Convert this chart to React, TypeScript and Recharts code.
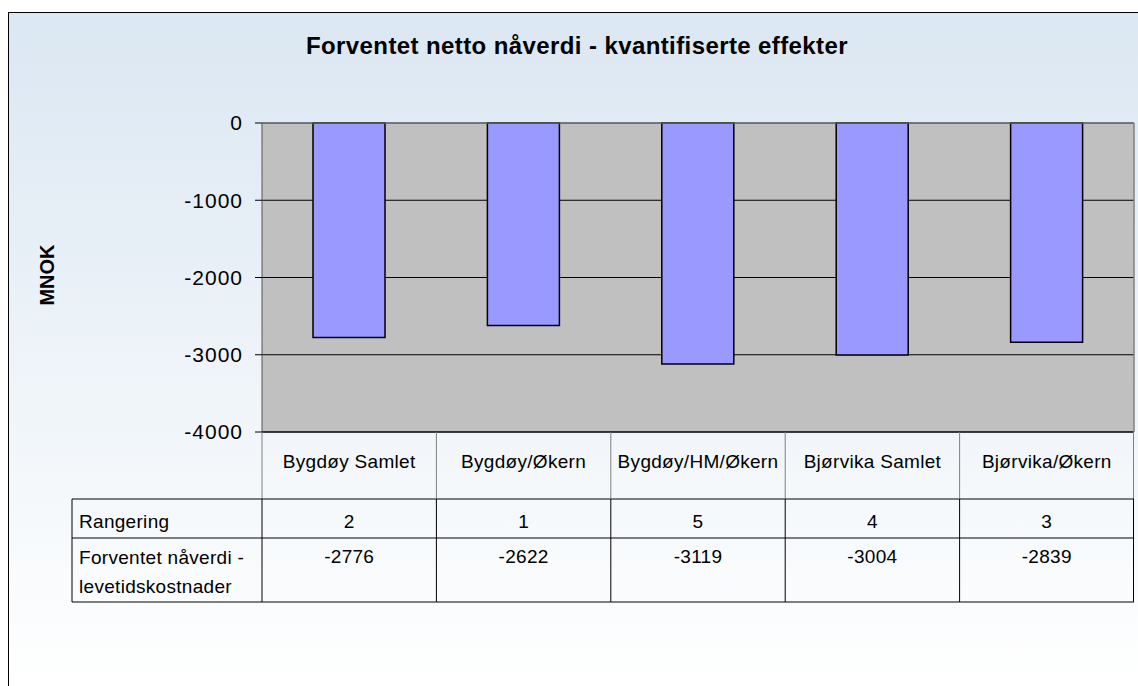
import { BarChart, Bar, XAxis, YAxis, CartesianGrid, ReferenceLine } from 'recharts';

const categories = ['Bygdøy Samlet', 'Bygdøy/Økern', 'Bygdøy/HM/Økern', 'Bjørvika Samlet', 'Bjørvika/Økern'];
const values = [-2776, -2622, -3119, -3004, -2839];
const ranks = [2, 1, 5, 4, 3];
const yTicks = [0, -1000, -2000, -3000, -4000];

const title = 'Forventet netto nåverdi - kvantifiserte effekter';
const yLabel = 'MNOK';
const rankLabel = 'Rangering';
const valueLabel = ['Forventet nåverdi -', 'levetidskostnader'];

const data = categories.map((name, i) => ({ name, value: values[i], rank: ranks[i] }));

const W = 1129;
const H = 673;
const PLOT_LEFT = 253;
const PLOT_RIGHT = 1125;
const COL_W = (PLOT_RIGHT - PLOT_LEFT) / categories.length;
const TABLE_LEFT = 63;
// row bottoms, measured from the top of the table
const ROW1 = 67;
const ROW2 = 106;
const ROW3 = 170;
const FONT = '"Liberation Sans", Arial, sans-serif';

function TableTick(props: any) {
  const { x, y, index } = props;
  const d = data[index];
  const l = x - COL_W / 2;
  const r = x + COL_W / 2;
  const last = index === data.length - 1;
  return (
    <g fontFamily={FONT} fontSize={19} style={{ letterSpacing: 0.3 }}>
      <line x1={l} y1={y} x2={l} y2={y + ROW1} stroke="#808080" />
      <line x1={l} y1={y + ROW1} x2={l} y2={y + ROW3} stroke="#000" />
      {last && <line x1={r - 0.5} y1={y} x2={r - 0.5} y2={y + ROW1} stroke="#808080" />}
      {last && <line x1={r - 0.5} y1={y + ROW1} x2={r - 0.5} y2={y + ROW3} stroke="#000" />}
      <line x1={l} y1={y + ROW1} x2={r} y2={y + ROW1} stroke="#000" />
      <line x1={l} y1={y + ROW2} x2={r} y2={y + ROW2} stroke="#000" />
      <line x1={l} y1={y + ROW3} x2={r} y2={y + ROW3} stroke="#000" />
      <text x={x} y={y + 36} textAnchor="middle" fill="#000">{d.name}</text>
      <text x={x} y={y + 96} textAnchor="middle" fill="#000">{d.rank}</text>
      <text x={x} y={y + 131} textAnchor="middle" fill="#000">{d.value}</text>
      {index === 0 && (
        <g>
          <line x1={TABLE_LEFT} y1={y + ROW1} x2={l} y2={y + ROW1} stroke="#000" />
          <line x1={TABLE_LEFT} y1={y + ROW2} x2={l} y2={y + ROW2} stroke="#000" />
          <line x1={TABLE_LEFT} y1={y + ROW3} x2={l} y2={y + ROW3} stroke="#000" />
          <line x1={TABLE_LEFT} y1={y + ROW1} x2={TABLE_LEFT} y2={y + ROW3} stroke="#000" />
          <text x={TABLE_LEFT + 7} y={y + 96} fill="#000">{rankLabel}</text>
          <text x={TABLE_LEFT + 7} y={y + 132} fill="#000">{valueLabel[0]}</text>
          <text x={TABLE_LEFT + 7} y={y + 161} fill="#000">{valueLabel[1]}</text>
        </g>
      )}
    </g>
  );
}

export default function App() {
  return (
    <div
      style={{
        position: 'absolute',
        left: 8,
        top: 12,
        width: W,
        height: H,
        borderLeft: '1px solid #000',
        borderTop: '1px solid #000',
        background: 'linear-gradient(#DBE7F2, #FFFFFF)',
        overflow: 'hidden',
        fontFamily: FONT,
      }}
    >
      <div
        style={{
          position: 'absolute',
          left: 0,
          top: 21,
          width: 1136,
          textAlign: 'center',
          fontSize: 24,
          lineHeight: '24px',
          fontWeight: 'bold',
          letterSpacing: 0.4,
        }}
      >
        {title}
      </div>
      <div
        style={{
          position: 'absolute',
          left: -12,
          top: 250,
          width: 100,
          height: 24,
          lineHeight: '24px',
          textAlign: 'center',
          fontSize: 20,
          fontWeight: 'bold',
          transform: 'rotate(-90deg)',
        }}
      >
        {yLabel}
      </div>
      <BarChart width={W} height={H} data={data} margin={{ top: 110, right: 0, bottom: H - 419 - 170, left: 0 }}>
        <CartesianGrid vertical={false} stroke="#000" fill="#C0C0C0" fillOpacity={1} />
        <XAxis
          dataKey="name"
          height={170}
          tickSize={0}
          tickMargin={0}
          interval={0}
          axisLine={{ stroke: '#000' }}
          tick={<TableTick />}
        />
        <YAxis
          width={PLOT_LEFT}
          domain={[-4000, 0]}
          ticks={yTicks}
          interval={0}
          tickSize={7}
          tickMargin={12}
          axisLine={{ stroke: '#555' }}
          tickLine={{ stroke: '#000' }}
          tick={{ fill: '#000', fontSize: 21, fontFamily: FONT, style: { letterSpacing: 1 } }}
        />
        <YAxis
          yAxisId="right"
          orientation="right"
          width={4}
          domain={[-4000, 0]}
          tick={false}
          tickLine={false}
          axisLine={{ stroke: '#808080', strokeWidth: 1.5 }}
        />
        <ReferenceLine y={0} stroke="#808080" />
        <Bar dataKey="value" fill="#9999FF" stroke="#000" strokeWidth={1.5} barSize={72} isAnimationActive={false} />
      </BarChart>
    </div>
  );
}
